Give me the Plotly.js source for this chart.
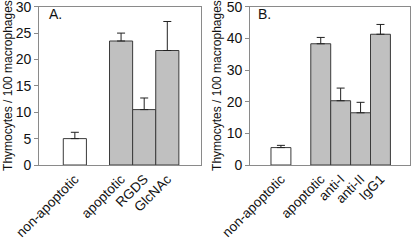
<!DOCTYPE html>
<html>
<head>
<meta charset="utf-8">
<script src="https://cdn.plot.ly/plotly-3.0.1.min.js"></script>
<style>html,body{margin:0;padding:0;background:#fff}#chart{width:412px;height:240px}</style>
</head>
<body>
<div id="chart"></div>
<script>
// Panel A data
const catsA = ["non-apoptotic", "apoptotic", "RGDS", "GlcNAc"];
const valsA = [5.0, 23.5, 10.5, 21.7];
const errA = [1.2, 1.5, 2.2, 5.5];
// Panel B data
const catsB = ["non-apoptotic", "apoptotic", "anti-I", "anti-II", "IgG1"];
const valsB = [5.5, 38.3, 20.3, 16.5, 41.3];
const errB = [0.7, 2.0, 4.0, 3.3, 3.1];
const yTitle = "Thymocytes / 100 macrophages";

function positions(n){ // control bar sits alone, then a one-slot gap
  const p = [];
  for (let i = 0; i < n; i++) p.push(i === 0 ? 1 : i + 2);
  return p;
}
const FONT = "Liberation Sans, Arial, sans-serif";
function fills(n){ return Array.from({length:n}, (_, i) => i === 0 ? "#ffffff" : "#c0c0c0"); }
function trace(cats, vals, errs, xa, ya){
  return {
    type: "bar", x: positions(cats.length), y: vals, width: 1,
    xaxis: xa, yaxis: ya,
    marker: {color: fills(cats.length), line: {color: "#3a3a3a", width: 1}},
    error_y: {type: "data", symmetric: false, array: errs, arrayminus: errs.map(() => 0),
              color: "#222", thickness: 1, width: 4},
    hoverinfo: "none", showlegend: false
  };
}
const axisY = (dom, max, dt) => ({
  domain: [0.3125, 0.972], range: [0, max], tickmode: "linear", dtick: dt, tick0: 0,
  showgrid: false, zeroline: false, showline: true, linecolor: "#8a8a8a", linewidth: 1,
  mirror: true, ticks: "outside", ticklen: 4, tickcolor: "#8a8a8a",
  ticklabelposition: "outside", ticklabeloverflow: "allow", showticklabels: true,
  tickfont: {family: FONT, size: 14, color: "#111"},
  anchor: dom
});
const axisX = (dom, cats, rmax, ya) => ({
  domain: dom, range: [-0.55, rmax], showgrid: false, zeroline: false,
  showline: true, linecolor: "#8a8a8a", linewidth: 1, mirror: true, ticks: "",
  tickmode: "array", tickvals: positions(cats.length), ticktext: cats, tickangle: -45,
  ticklabeloverflow: "allow",
  tickfont: {family: FONT, size: 13.5, color: "#111"}, anchor: ya
});
const yTitleAnn = (x) => ({
  text: yTitle, xref: "paper", yref: "paper", x: x, y: 0.642, xanchor: "center", yanchor: "middle",
  textangle: -90, showarrow: false, font: {family: FONT, size: 12, color: "#111"}
});
const layout = {
  width: 412, height: 240, margin: {l: 0, r: 0, t: 0, b: 0},
  paper_bgcolor: "#fff", plot_bgcolor: "#fff",
  xaxis: axisX([0.0947, 0.488], catsA, 6.46, "y"),
  yaxis: axisY("x", 30, 5),
  xaxis2: axisX([0.607, 0.994], catsB, 7.46, "y2"),
  yaxis2: axisY("x2", 50, 10),
  annotations: [
    yTitleAnn(8 / 412),
    yTitleAnn(217 / 412),
    {text: "A.", xref: "paper", yref: "paper", x: 0.113, y: 0.94, xanchor: "left", yanchor: "middle",
     showarrow: false, font: {family: FONT, size: 14, color: "#111"}},
    {text: "B.", xref: "paper", yref: "paper", x: 0.622, y: 0.94, xanchor: "left", yanchor: "middle",
     showarrow: false, font: {family: FONT, size: 14, color: "#111"}}
  ]
};
Plotly.newPlot("chart", [trace(catsA, valsA, errA, "x", "y"), trace(catsB, valsB, errB, "x2", "y2")],
  layout, {staticPlot: true});
</script>
</body>
</html>
